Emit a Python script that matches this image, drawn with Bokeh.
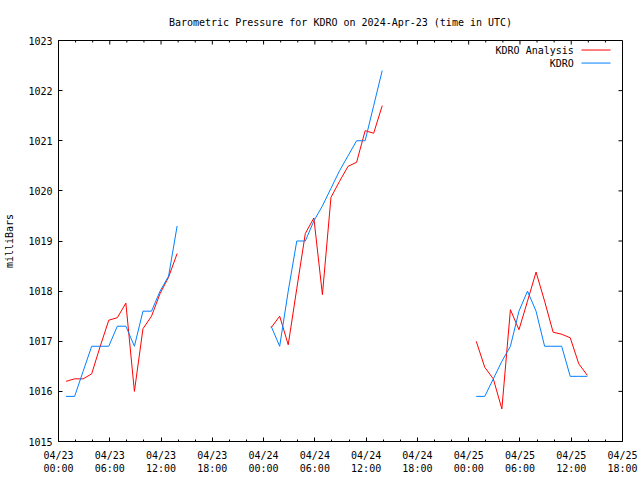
import numpy as np
import pandas as pd
from bokeh.plotting import figure
from bokeh.models import FixedTicker, Range1d
from bokeh.embed import file_html
from bokeh.resources import INLINE
from bokeh.core.properties import value

FONT = "DejaVu Sans Mono"
START = pd.Timestamp("2024-04-23 00:00")

# observation days and times (UTC)
days = ["2024-04-23", "2024-04-24", "2024-04-25"]
obs_times = ["00:53", "01:53", "02:53", "03:53", "04:53", "05:53", "06:53",
             "07:53", "08:53", "09:53", "10:53", "11:53", "12:53", "13:53"]

# KDRO observed pressure (mb)
kdro_0423 = [1015.9, 1015.9, 1016.4, 1016.9, 1016.9, 1016.9, 1017.3,
             1017.3, 1016.9, 1017.6, 1017.6, 1018.0, 1018.3, 1019.3]
kdro_0424 = [1017.3, 1016.9, 1018.0, 1019.0, 1019.0, 1019.4, 1019.7,
             1020.05, 1020.4, 1020.7, 1021.0, 1021.0, 1021.7, 1022.4]
kdro_0425 = [1015.9, 1015.9, 1016.25, 1016.6, 1016.9, 1017.6, 1018.0,
             1017.6, 1016.9, 1016.9, 1016.9, 1016.3, 1016.3, 1016.3]

# KDRO analysis pressure (mb)
anal_0423 = [1016.2, 1016.25, 1016.25, 1016.35, 1016.9, 1017.42, 1017.47,
             1017.76, 1016.0, 1017.25, 1017.5, 1017.95, 1018.28, 1018.75]
anal_0424 = [1017.27, 1017.5, 1016.93, 1018.05, 1019.15, 1019.46, 1017.93,
             1019.87, 1020.19, 1020.49, 1020.57, 1021.2, 1021.15, 1021.7]
anal_0425 = [1017.0, 1016.48, 1016.25, 1015.65, 1017.63, 1017.23, 1017.8,
             1018.38, 1017.8, 1017.18, 1017.14, 1017.07, 1016.55, 1016.32]

# axis ticks
tick_hours = [0, 6, 12, 18, 24, 30, 36, 42, 48, 54, 60, 66]
tick_labels = ["04/23\n00:00", "04/23\n06:00", "04/23\n12:00", "04/23\n18:00",
               "04/24\n00:00", "04/24\n06:00", "04/24\n12:00", "04/24\n18:00",
               "04/25\n00:00", "04/25\n06:00", "04/25\n12:00", "04/25\n18:00"]
minor_hours = [2, 4, 8, 10, 14, 16, 20, 22, 26, 28, 32, 34, 38, 40, 44, 46,
               50, 52, 56, 58, 62, 64]
y_ticks = [1015, 1016, 1017, 1018, 1019, 1020, 1021, 1022, 1023]
X_MIN, X_MAX = 0, 66
Y_MIN, Y_MAX = 1015, 1023


def build(series):
    xs, ys = [], []
    for day, vals in zip(days, series):
        t = pd.to_datetime([f"{day} {h}" for h in obs_times])
        hrs = ((t - START).total_seconds() / 3600.0).tolist()
        xs += hrs + [np.nan]
        ys += list(vals) + [np.nan]
    return xs, ys


kx, ky = build([kdro_0423, kdro_0424, kdro_0425])
ax_, ay = build([anal_0423, anal_0424, anal_0425])

p = figure(width=640, height=480, x_range=Range1d(X_MIN, X_MAX), y_range=Range1d(Y_MIN, Y_MAX),
           output_backend="svg", toolbar_location=None,
           min_border_left=58, min_border_right=18, min_border_top=40, min_border_bottom=39)
p.background_fill_color = "white"
p.border_fill_color = "white"
p.outline_line_color = "black"
p.outline_line_alpha = 1.0
p.xgrid.visible = False
p.ygrid.visible = False

p.title.text = "Barometric Pressure for KDRO on 2024-Apr-23 (time in UTC)"
p.title.align = "center"
p.title.text_font = FONT
p.title.text_font_size = "10px"
p.title.text_font_style = "normal"
p.title.text_color = "black"
p.title.standoff = 26


def style(ax):
    ax.axis_line_color = "black"
    ax.major_tick_in = 4
    ax.major_tick_out = 0
    ax.minor_tick_in = 2
    ax.minor_tick_out = 0
    ax.major_tick_line_color = "black"
    ax.minor_tick_line_color = "black"
    ax.major_label_text_font = FONT
    ax.major_label_text_font_size = "10px"
    ax.major_label_text_color = "black"


xa = p.xaxis[0]
xa.ticker = FixedTicker(ticks=tick_hours, minor_ticks=minor_hours)
xa.major_label_overrides = {h: l for h, l in zip(tick_hours, tick_labels)}
style(xa)
xa.major_label_standoff = 8

ya = p.yaxis[0]
ya.ticker = FixedTicker(ticks=y_ticks, minor_ticks=[])
style(ya)
ya.major_label_standoff = 6
ya.axis_label = "milliBars"
ya.axis_label_text_font = FONT
ya.axis_label_text_font_size = "10px"
ya.axis_label_text_font_style = "normal"
ya.axis_label_text_color = "black"
ya.axis_label_standoff = 10

# mirrored ticks on top and right border (gnuplot style)
p.ray(x=tick_hours, y=[Y_MAX] * len(tick_hours), length=4, length_units="screen",
      angle=-np.pi / 2, line_color="black", line_width=1)
p.ray(x=minor_hours, y=[Y_MAX] * len(minor_hours), length=2, length_units="screen",
      angle=-np.pi / 2, line_color="black", line_width=1)
p.ray(x=[X_MAX] * len(y_ticks), y=y_ticks, length=4, length_units="screen",
      angle=np.pi, line_color="black", line_width=1)

RED = "#ff0000"
BLUE = "#0080ff"
p.line(ax_, ay, line_color=RED, line_width=1)
p.line(kx, ky, line_color=BLUE, line_width=1)

# legend (text left of sample line, like gnuplot)
leg_labels = ["KDRO Analysis", "KDRO"]
leg_colors = [RED, BLUE]
leg_y = [1022.81, 1022.55]
p.text(x=[60.3, 60.3], y=leg_y, text=leg_labels, text_align="right", text_baseline="middle",
       text_font=value(FONT), text_font_size="10px", text_color="black")
p.segment(x0=[61.2, 61.2], y0=leg_y, x1=[64.6, 64.6], y1=leg_y, line_color=leg_colors, line_width=1)

open("out.html", "w").write(file_html(p, INLINE))
